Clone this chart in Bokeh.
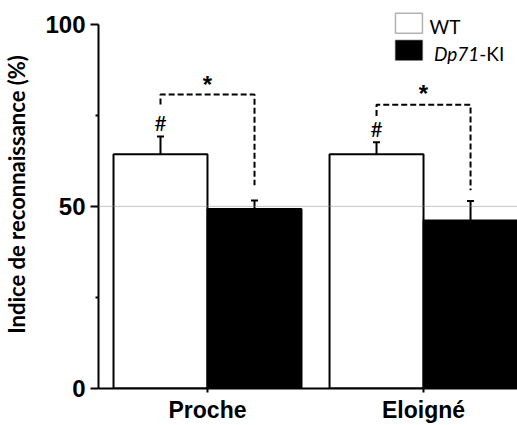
from bokeh.plotting import figure
from bokeh.models import Range1d, FixedTicker, Span, Whisker, TeeHead, ColumnDataSource, Label, BoxAnnotation
from bokeh.core.properties import value
from bokeh.embed import file_html
from bokeh.resources import INLINE

# ---- data ----
categories = ["Proche", "Eloigné"]
groups = ["WT", "Dp71-KI"]
wt_mean = [64.3, 64.3]
wt_sem = [4.9, 3.3]
ki_mean = [49.3, 46.1]
ki_sem = [2.3, 5.4]
chance_level = 50
bracket_top = [80.7, 77.9]
bracket_left_end = [78.0, 74.8]
bracket_right_end = [55.8, 54.4]
star_y = [84.2, 81.7]
hash_y = [72.9, 71.3]
y_ticks = [0, 50, 100]
y_minor_ticks = [25, 75]
y_title = "Indice de reconnaissance (%)"

# ---- layout constants ----
BAR_W = 0.435
DODGE = 0.2176
cat_x = [i + 1 for i in range(len(categories))]
wt_x = [c - DODGE for c in cat_x]
ki_x = [c + DODGE for c in cat_x]

p = figure(width=517, height=425, output_backend="svg", toolbar_location=None,
           x_range=Range1d(0.4954, 2.435), y_range=Range1d(0, 106.52),
           min_border_left=98, min_border_right=0, min_border_top=0, min_border_bottom=33)
p.outline_line_color = None
p.xgrid.grid_line_color = None
p.ygrid.grid_line_color = None
p.background_fill_color = "white"

# bars
p.vbar(x=wt_x, top=wt_mean, width=BAR_W, bottom=0, fill_color="white",
       line_color="black", line_width=2)
p.vbar(x=ki_x, top=ki_mean, width=BAR_W, bottom=0, fill_color="black",
       line_color="black", line_width=2)

# error bars (upper only)
err_src = ColumnDataSource(dict(
    x=wt_x + ki_x,
    lower=wt_mean + ki_mean,
    upper=[m + s for m, s in zip(wt_mean, wt_sem)] + [m + s for m, s in zip(ki_mean, ki_sem)],
))
p.add_layout(Whisker(source=err_src, base="x", lower="lower", upper="upper",
                     dimension="height", line_color="black", line_width=2,
                     lower_head=None,
                     upper_head=TeeHead(size=7, line_width=2, line_color="black"),
                     level="overlay"))

# chance level line
p.add_layout(Span(location=chance_level, dimension="width", line_color="#8c8c8c",
                  line_width=1, line_dash="1 1", level="overlay"))

# significance brackets
xs = [[wx, wx, kx, kx] for wx, kx in zip(wt_x, ki_x)]
ys = [[l, t, t, r] for l, t, r in zip(bracket_left_end, bracket_top, bracket_right_end)]
p.multi_line(xs=xs, ys=ys, line_color="black", line_width=2, line_dash="6 3")
p.text(x=cat_x, y=star_y, text=["*"] * len(cat_x), text_font=value("Liberation Sans"),
       text_font_style="bold", text_font_size="24px", text_align="center",
       text_baseline="middle", y_offset=3, text_color="black")
p.text(x=wt_x, y=hash_y, text=["#"] * len(wt_x), text_font=value("Lato"),
       text_font_size="21px", text_align="center", text_baseline="middle",
       text_color="black")

# legend (manual, to allow italic gene name)
p.add_layout(BoxAnnotation(left=1.870, right=1.995, bottom=97.5, top=103.0,
                           fill_color="white", fill_alpha=1, line_color="black", line_width=1.5))
p.add_layout(BoxAnnotation(left=1.870, right=1.995, bottom=90.1, top=95.6,
                           fill_color="black", fill_alpha=1, line_color="black", line_width=1.5))
p.add_layout(Label(x=2.028, y=99.45, text=groups[0], text_font="Lato", text_font_size="19px",
                   text_baseline="middle", text_align="left", text_color="black"))
p.add_layout(Label(x=2.258, y=92.0, text="Dp71", text_font="Lato", text_font_style="italic",
                   text_font_size="19px", text_baseline="middle", text_align="right",
                   text_color="black"))
p.add_layout(Label(x=2.258, y=92.0, text="-KI", text_font="Lato", text_font_size="19px",
                   text_baseline="middle", text_align="left", text_color="black"))

# axes
yax = p.yaxis[0]
yax.ticker = FixedTicker(ticks=y_ticks, minor_ticks=y_minor_ticks)
yax.bounds = (0, 100)
yax.axis_line_width = 2
yax.axis_line_color = "black"
yax.major_tick_line_width = 2
yax.minor_tick_line_width = 2
yax.major_tick_out = 8
yax.major_tick_in = 0
yax.minor_tick_out = 3
yax.minor_tick_in = 0
yax.major_label_text_font = "Liberation Sans"
yax.major_label_text_font_style = "bold"
yax.major_label_text_font_size = "24px"
yax.major_label_text_color = "black"
yax.major_label_standoff = 5
yax.axis_label = y_title
yax.axis_label_text_font = "Lato"
yax.axis_label_text_font_style = "bold"
yax.axis_label_text_font_size = "22px"
yax.axis_label_text_color = "black"
yax.axis_label_standoff = 12

xax = p.xaxis[0]
xax.ticker = FixedTicker(ticks=cat_x, minor_ticks=[])
xax.major_label_overrides = {c: name for c, name in zip(cat_x, categories)}
xax.axis_line_width = 2
xax.axis_line_color = "black"
xax.major_tick_line_width = 2
xax.major_tick_out = 4
xax.major_tick_in = 0
xax.minor_tick_line_color = None
xax.major_label_text_font = "Liberation Sans"
xax.major_label_text_font_style = "bold"
xax.major_label_text_font_size = "23px"
xax.major_label_text_color = "black"
xax.major_label_standoff = 4

open("out.html", "w").write(file_html(p, INLINE))
